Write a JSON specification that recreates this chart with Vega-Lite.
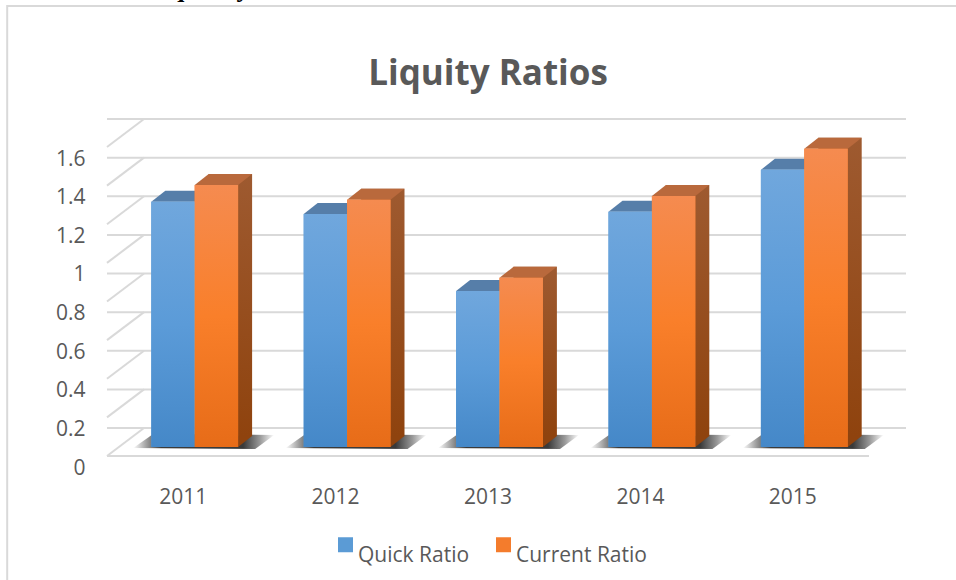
{
"$schema":"https://vega.github.io/schema/vega-lite/v6.json",
"width":762,"height":309,
"autosize":"none",
"padding":{"left":107,"top":147,"right":87,"bottom":124},
"background":"white",
"title":{"text":"Liquity Ratios","font":"Open Sans","fontSize":35,"fontWeight":"bold","color":"#595959","anchor":"middle","frame":"group","offset":0,"dy":116},
"config":{"view":{"stroke":null},"font":"Open Sans"},
"datasets":{
"bars":[
{"year":"2011","series":"Quick Ratio","value":1.27},{"year":"2011","series":"Current Ratio","value":1.357},
{"year":"2012","series":"Quick Ratio","value":1.207},{"year":"2012","series":"Current Ratio","value":1.28},
{"year":"2013","series":"Quick Ratio","value":0.808},{"year":"2013","series":"Current Ratio","value":0.876},
{"year":"2014","series":"Quick Ratio","value":1.218},{"year":"2014","series":"Current Ratio","value":1.30},
{"year":"2015","series":"Quick Ratio","value":1.435},{"year":"2015","series":"Current Ratio","value":1.544}],
"ticks":[{"tick":0},{"tick":0.2},{"tick":0.4},{"tick":0.6},{"tick":0.8},{"tick":1},{"tick":1.2},{"tick":1.4},{"tick":1.6}],
"years":[{"year":"2011"},{"year":"2012"},{"year":"2013"},{"year":"2014"},{"year":"2015"}],
"note":[{"year":"2011","tick":1.6,"label":"Liquidity"}]
},
"encoding":{
"x":{"field":"year","type":"nominal","scale":{"paddingInner":0.43,"paddingOuter":0.215},"axis":{"title":null,"labelAngle":0,"domain":false,"ticks":false,"grid":false,"labelFontSize":21,"labelColor":"#595959","labelPadding":30,"labelFont":"Open Sans"}},
"y":{"type":"quantitative","scale":{"domain":[0,1.6],"nice":false},"axis":{"title":null,"values":[0,0.2,0.4,0.6,0.8,1,1.2,1.4,1.6],"format":"~g","domain":false,"ticks":false,"grid":false,"labelFontSize":21,"labelColor":"#595959","labelPadding":22,"labelOffset":12,"labelFont":"Open Sans"}}
},
"layer":[
{"data":{"name":"note"},"mark":{"type":"point","shape":"M-176,721L-176,-141L800,-141","size":4,"filled":false,"stroke":"#d9d9d9","strokeWidth":2,"opacity":1,"clip":false},"encoding":{"y":{"field":"tick","type":"quantitative"}}},
{"data":{"name":"note"},"mark":{"type":"text","font":"Liberation Serif","fontWeight":"bold","fontSize":26,"color":"#000000","align":"left","baseline":"alphabetic","xOffset":-37.7,"yOffset":-150},"encoding":{"y":{"field":"tick","type":"quantitative"},"text":{"field":"label"}}},
{"data":{"name":"ticks"},"mark":{"type":"rule","color":"#d9d9d9","strokeWidth":2,"xOffset":37,"yOffset":-28},"encoding":{"x":null,"y":{"field":"tick","type":"quantitative"}}},
{"data":{"name":"ticks"},"transform":[{"filter":"datum.tick===0"}],"mark":{"type":"rule","color":"#d9d9d9","strokeWidth":2},"encoding":{"x":null,"y":{"field":"tick","type":"quantitative"}}},
{"data":{"name":"ticks"},"mark":{"type":"point","shape":"M0,0L37,-28","size":4,"filled":false,"stroke":"#d9d9d9","strokeWidth":2,"opacity":1,"xOffset":-76.2},"encoding":{"x":{"datum":"2011"},"y":{"field":"tick","type":"quantitative"}}},
{"data":{"name":"years"},"mark":{"type":"point","shape":"M-50,-8L-30,-22L91,-21L72,-7Z","size":4,"filled":true,"stroke":null,"opacity":1,"fill":{"gradient":"linear","x1":0,"y1":0,"x2":1,"y2":0,"stops":[{"offset":0,"color":"#ffffff"},{"offset":0.1,"color":"#999999"},{"offset":0.2,"color":"#3a3a3a"},{"offset":0.78,"color":"#3a3a3a"},{"offset":0.9,"color":"#999999"},{"offset":1,"color":"#ffffff"}]}},"encoding":{"x":{"field":"year","type":"nominal"},"y":{"datum":0}}},
{"data":{"name":"bars"},"transform":[{"filter":"datum.series==='Current Ratio'"}],"mark":{"type":"bar","width":43.4,"xOffset":47.2,"yOffset":-20,"fill":{"gradient":"linear","x1":0,"y1":0,"x2":0,"y2":1,"stops":[{"offset":0,"color":"#9e5a30"},{"offset":1,"color":"#8f430e"}]}},"encoding":{"x":{"field":"year","type":"nominal"},"y":{"field":"value","type":"quantitative"}}},
{"data":{"name":"years"},"mark":{"type":"point","shape":"M43.4,0L57.4,-11L43.4,-11Z","size":4,"filled":true,"stroke":null,"opacity":1,"fill":"#8f430e","xOffset":11.5,"yOffset":-9},"encoding":{"x":{"field":"year","type":"nominal"},"y":{"datum":0}}},
{"data":{"name":"bars"},"transform":[{"filter":"datum.series==='Quick Ratio'"}],"mark":{"type":"point","shape":"M-43.4,0L0,0L14,-11L-29.4,-11Z","size":4,"filled":true,"stroke":null,"opacity":1,"fill":"#567ea9","xOffset":11.5,"yOffset":-9},"encoding":{"x":{"field":"year","type":"nominal"},"y":{"field":"value","type":"quantitative"}}},
{"data":{"name":"bars"},"transform":[{"filter":"datum.series==='Current Ratio'"}],"mark":{"type":"point","shape":"M0,0L43.4,0L57.4,-11L14,-11Z","size":4,"filled":true,"stroke":null,"opacity":1,"fill":"#b9693c","xOffset":11.5,"yOffset":-9},"encoding":{"x":{"field":"year","type":"nominal"},"y":{"field":"value","type":"quantitative"}}},
{"data":{"name":"bars"},"transform":[{"filter":"datum.series==='Quick Ratio'"}],"mark":{"type":"bar","width":43.4,"xOffset":-10.2,"yOffset":-9},"encoding":{"x":{"field":"year","type":"nominal"},"y":{"field":"value","type":"quantitative"},
"fill":{"field":"series","type":"nominal","scale":{"domain":["Quick Ratio","Current Ratio"],"range":["#5b9bd5","#f47c2c"]},
"legend":{"title":null,"orient":"none","legendX":228,"legendY":387,"direction":"horizontal","columns":2,"symbolType":"square","symbolSize":225,"symbolStrokeWidth":0,"labelFontSize":21,"labelColor":"#595959","labelFont":"Open Sans","labelOffset":2,"columnPadding":23,"labelBaseline":"top"}}}},
{"data":{"name":"bars"},"transform":[{"filter":"datum.series==='Current Ratio'"}],"mark":{"type":"bar","width":43.4,"xOffset":33.2,"yOffset":-9},"encoding":{"x":{"field":"year","type":"nominal"},"y":{"field":"value","type":"quantitative"},"fill":{"field":"series","type":"nominal"}}},
{"data":{"name":"bars"},"transform":[{"filter":"datum.series==='Quick Ratio'"}],"mark":{"type":"bar","width":43.4,"xOffset":-10.2,"yOffset":-9,"fill":{"gradient":"linear","x1":0,"y1":0,"x2":0,"y2":1,"stops":[{"offset":0,"color":"#70a7dd"},{"offset":0.5,"color":"#5b9bd8"},{"offset":1,"color":"#4588c8"}]}},"encoding":{"x":{"field":"year","type":"nominal"},"y":{"field":"value","type":"quantitative"}}},
{"data":{"name":"bars"},"transform":[{"filter":"datum.series==='Current Ratio'"}],"mark":{"type":"bar","width":43.4,"xOffset":33.2,"yOffset":-9,"fill":{"gradient":"linear","x1":0,"y1":0,"x2":0,"y2":1,"stops":[{"offset":0,"color":"#f58b50"},{"offset":0.5,"color":"#f97f2a"},{"offset":1,"color":"#e76c18"}]}},"encoding":{"x":{"field":"year","type":"nominal"},"y":{"field":"value","type":"quantitative"}}}
]
}
